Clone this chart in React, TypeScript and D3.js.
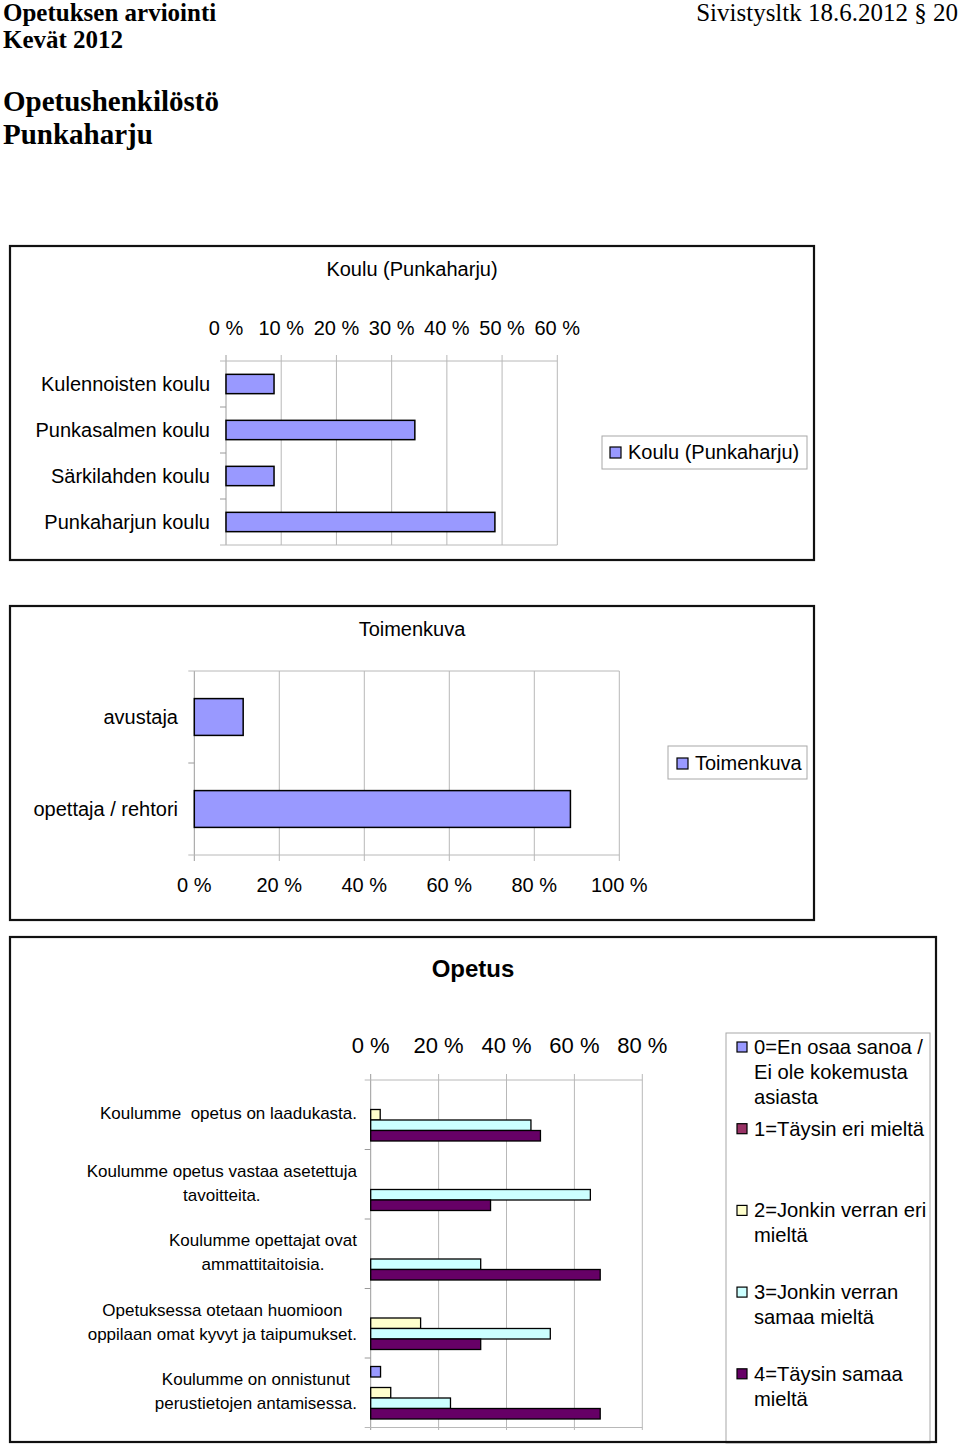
import React from "react";
import * as d3 from "d3";

// ---------- data ----------
const schools = ["Kulennoisten koulu", "Punkasalmen koulu", "Särkilahden koulu", "Punkaharjun koulu"];
const schoolValues = [8.7, 34.2, 8.7, 48.7];
const schoolTicks = [0, 10, 20, 30, 40, 50, 60];

const roles = ["avustaja", "opettaja / rehtori"];
const roleValues = [11.5, 88.5];
const roleTicks = [0, 20, 40, 60, 80, 100];

const statements = [
  ["Koulumme  opetus on laadukasta."],
  ["Koulumme opetus vastaa asetettuja", "tavoitteita."],
  ["Koulumme opettajat ovat", "ammattitaitoisia."],
  ["Opetuksessa otetaan huomioon", "oppilaan omat kyvyt ja taipumukset."],
  ["Koulumme on onnistunut", "perustietojen antamisessa."],
];
const seriesNames = [
  ["0=En osaa sanoa /", "Ei ole kokemusta", "asiasta"],
  ["1=Täysin eri mieltä"],
  ["2=Jonkin verran eri", "mieltä"],
  ["3=Jonkin verran", "samaa mieltä"],
  ["4=Täysin samaa", "mieltä"],
];
const s0 = [0, 0, 0, 0, 2.9];
const s1 = [0, 0, 0, 0, 0];
const s2 = [2.8, 0, 0, 14.7, 5.9];
const s3 = [47.2, 64.7, 32.4, 52.9, 23.5];
const s4 = [50.0, 35.3, 67.6, 32.4, 67.6];
const opetusTicks = [0, 20, 40, 60, 80];

const seriesColors = ["#9999FF", "#993366", "#FFFFCC", "#CCFFFF", "#660066"];
const FONT = '"Liberation Sans", Arial, sans-serif';
const SERIF = '"Liberation Serif", "Times New Roman", serif';
const GRID = "#b8b8b8";
const AXIS = "#9a9a9a";

let measureCtx: CanvasRenderingContext2D | null = null;
function textWidth(s: string, font: string) {
  if (!measureCtx) measureCtx = document.createElement("canvas").getContext("2d");
  if (!measureCtx) return s.length * 8;
  measureCtx.font = font;
  return measureCtx.measureText(s).width;
}

function Frame({ x, y, w, h }: { x: number; y: number; w: number; h: number }) {
  return <rect x={x} y={y} width={w} height={h} fill="none" stroke="#111" strokeWidth={2.2} />;
}

function SingleBarChart(props: {
  frame: [number, number, number, number];
  title: string;
  titleY: number;
  cats: string[];
  vals: number[];
  ticks: number[];
  xRange: [number, number];
  yRange: [number, number];
  axisTop: boolean;
  tickLabelY: number;
  labelX: number;
  barFrac: number;
  legend: { box: [number, number, number, number]; sw: [number, number]; textX: number; textY: number };
}) {
  const { frame, title, titleY, cats, vals, ticks, xRange, yRange, axisTop, tickLabelY, labelX, barFrac, legend } = props;
  const x = d3.scaleLinear().domain([0, ticks[ticks.length - 1]]).range(xRange);
  const y = d3.scaleBand<string>().domain(cats).range(yRange).padding(0);
  const bw = y.bandwidth();
  const bh = bw * barFrac;
  const [y0, y1] = yRange;
  const axisY = axisTop ? y0 : y1;
  const tickDir = axisTop ? -6 : 6;
  return (
    <g>
      <Frame x={frame[0]} y={frame[1]} w={frame[2]} h={frame[3]} />
      <text x={(frame[0] * 2 + frame[2]) / 2} y={titleY} textAnchor="middle" dy="0.35em" fontSize={20} fontFamily={FONT}>
        {title}
      </text>
      {ticks.map((t) => (
        <line key={"g" + t} x1={x(t)} x2={x(t)} y1={axisY + tickDir} y2={axisTop ? y1 : y0} stroke={t === 0 ? AXIS : GRID} strokeWidth={1} />
      ))}
      <line x1={x(0) - 6} x2={x(ticks[ticks.length - 1])} y1={y0} y2={y0} stroke={GRID} />
      <line x1={x(0) - 6} x2={x(ticks[ticks.length - 1])} y1={y1} y2={y1} stroke={GRID} />
      {cats.slice(1).map((c) => (
        <line key={"ct" + c} x1={x(0) - 6} x2={x(0)} y1={y(c)!} y2={y(c)!} stroke={AXIS} />
      ))}
      {ticks.map((t) => (
        <text key={"tl" + t} x={x(t)} y={tickLabelY} textAnchor="middle" dy="0.35em" fontSize={20} fontFamily={FONT}>
          {t + " %"}
        </text>
      ))}
      {cats.map((c, i) => (
        <g key={c}>
          <text x={labelX} y={y(c)! + bw / 2} textAnchor="end" dy="0.35em" fontSize={20} fontFamily={FONT}>
            {c}
          </text>
          <rect x={x(0)} y={y(c)! + (bw - bh) / 2} width={x(vals[i]) - x(0)} height={bh} fill="#9999FF" stroke="#000" strokeWidth={1.5} />
        </g>
      ))}
      <rect x={legend.box[0]} y={legend.box[1]} width={legend.box[2]} height={legend.box[3]} fill="none" stroke="#a8a8a8" strokeWidth={1} />
      <rect x={legend.sw[0]} y={legend.sw[1]} width={11} height={11} fill="#9999FF" stroke="#000" strokeWidth={1.2} />
      <text x={legend.textX} y={legend.textY} dy="0.35em" fontSize={20} fontFamily={FONT}>
        {title}
      </text>
    </g>
  );
}

function OpetusChart() {
  const series = [s0, s1, s2, s3, s4];
  const x = d3.scaleLinear().domain([0, 80]).range([370.7, 642.3]);
  const cats = statements.map((_, i) => String(i));
  const y = d3.scaleBand<string>().domain(cats).range([1080, 1427.5]).padding(0);
  const bw = y.bandwidth();
  const inner = d3
    .scaleBand<string>()
    .domain(series.map((_, i) => String(i)))
    .range([8.5, bw - 8.5])
    .padding(0);
  const labelSize = 17;
  const labelFont = `${labelSize}px ${FONT}`;
  return (
    <g>
      <text x={473} y={969} textAnchor="middle" dy="0.35em" fontSize={24} fontWeight="bold" fontFamily={FONT}>
        Opetus
      </text>
      {opetusTicks.map((t) => (
        <line key={"g" + t} x1={x(t)} x2={x(t)} y1={1074} y2={1430} stroke={t === 0 ? AXIS : GRID} />
      ))}
      <line x1={x(0) - 6} x2={x(80)} y1={1080} y2={1080} stroke={GRID} />
      <line x1={x(0) - 6} x2={x(80)} y1={1427.5} y2={1427.5} stroke={GRID} />
      {cats.slice(1).map((c) => (
        <line key={"ct" + c} x1={x(0) - 6} x2={x(0)} y1={y(c)!} y2={y(c)!} stroke={AXIS} />
      ))}
      {opetusTicks.map((t) => (
        <text key={"tl" + t} x={x(t)} y={1045} textAnchor="middle" dy="0.35em" fontSize={22} fontFamily={FONT}>
          {t + " %"}
        </text>
      ))}
      {statements.map((lines, i) => {
        const maxW = Math.max(...lines.map((l) => textWidth(l, labelFont)));
        const cx = 357 - maxW / 2;
        const cy = y(String(i))! + bw / 2 - 1.5;
        return (
          <text key={"st" + i} textAnchor="middle" fontSize={labelSize} fontFamily={FONT} style={{ whiteSpace: "pre" }}>
            {lines.map((l, j) => (
              <tspan key={j} x={cx} y={cy + (j - (lines.length - 1) / 2) * 24} dy="0.35em">
                {l}
              </tspan>
            ))}
          </text>
        );
      })}
      {statements.map((_, i) =>
        series.map((vals, k) =>
          vals[i] > 0 ? (
            <rect
              key={"b" + i + "-" + k}
              x={x(0)}
              y={y(String(i))! + inner(String(k))!}
              width={x(vals[i]) - x(0)}
              height={inner.bandwidth()}
              fill={seriesColors[k]}
              stroke="#000"
              strokeWidth={1.3}
            />
          ) : null
        )
      )}
      <rect x={726} y={1033} width={204} height={410} fill="none" stroke="#a8a8a8" strokeWidth={1} />
      {seriesNames.map((lines, k) => {
        const top = 1047 + k * 81.7;
        return (
          <g key={"lg" + k}>
            <rect x={737} y={top - 5} width={10} height={10} fill={seriesColors[k]} stroke="#000" strokeWidth={1.2} />
            <text fontSize={20.2} fontFamily={FONT}>
              {lines.map((l, j) => (
                <tspan key={j} x={754} y={top + j * 25} dy="0.35em">
                  {l}
                </tspan>
              ))}
            </text>
          </g>
        );
      })}
      <Frame x={10} y={937} w={926} h={505} />
    </g>
  );
}

export default function App() {
  return (
    <div style={{ position: "absolute", left: 0, top: 0, width: 960, height: 1448, background: "#fff" }}>
      <svg width={960} height={1448} style={{ display: "block" }}>
        <rect x={0} y={0} width={960} height={1448} fill="#fff" />
        <text x={3} y={21} fontSize={25} fontWeight="bold" fontFamily={SERIF}>
          Opetuksen arviointi
        </text>
        <text x={3} y={48} fontSize={25} fontWeight="bold" fontFamily={SERIF}>
          Kevät 2012
        </text>
        <text x={958} y={21} textAnchor="end" fontSize={25} fontFamily={SERIF}>
          Sivistysltk 18.6.2012 § 20
        </text>
        <text x={3} y={111} fontSize={29} fontWeight="bold" fontFamily={SERIF}>
          Opetushenkilöstö
        </text>
        <text x={3} y={144} fontSize={29} fontWeight="bold" fontFamily={SERIF}>
          Punkaharju
        </text>

        <SingleBarChart
          frame={[10, 246, 804, 314]}
          title="Koulu (Punkaharju)"
          titleY={269}
          cats={schools}
          vals={schoolValues}
          ticks={schoolTicks}
          xRange={[226, 557.3]}
          yRange={[361, 545]}
          axisTop={true}
          tickLabelY={328}
          labelX={210}
          barFrac={0.42}
          legend={{ box: [602, 436, 205, 33], sw: [610, 447], textX: 628, textY: 452 }}
        />
        <SingleBarChart
          frame={[10, 606, 804, 314]}
          title="Toimenkuva"
          titleY={629}
          cats={roles}
          vals={roleValues}
          ticks={roleTicks}
          xRange={[194.3, 619.3]}
          yRange={[671, 855]}
          axisTop={false}
          tickLabelY={885}
          labelX={178}
          barFrac={0.4}
          legend={{ box: [668, 746, 139, 33], sw: [677, 758], textX: 695, textY: 763 }}
        />
        <OpetusChart />
      </svg>
    </div>
  );
}
